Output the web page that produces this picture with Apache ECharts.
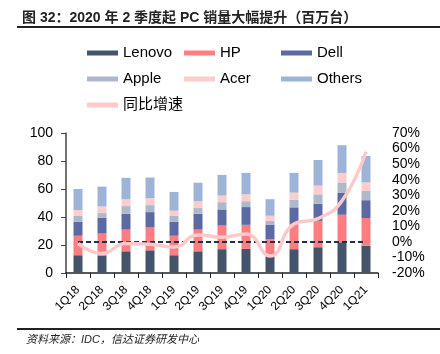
<!DOCTYPE html>
<html>
<head>
<meta charset="utf-8">
<script src="https://cdn.jsdelivr.net/npm/echarts@6/dist/echarts.min.js"></script>
<style>
  html, body { margin: 0; padding: 0; background: #fff; }
  #main { width: 440px; height: 354px; }
</style>
</head>
<body>
<div id="main"></div>
<script>
// PC shipments by vendor (million units) and YoY growth
var categories = ['1Q18', '2Q18', '3Q18', '4Q18', '1Q19', '2Q19', '3Q19', '4Q19', '1Q20', '2Q20', '3Q20', '4Q20', '1Q21'];
var lenovo = [12.7, 12.5, 15.5, 16.2, 12.7, 15.5, 17.0, 17.2, 11.8, 17.0, 18.4, 21.9, 19.5];
var hp = [13.9, 15.7, 15.5, 16.3, 13.9, 15.5, 16.9, 17.2, 12.2, 18.1, 18.8, 19.7, 19.8];
var dell = [10.1, 11.3, 11.3, 11.0, 10.1, 11.3, 11.5, 12.7, 10.6, 11.8, 12.2, 15.6, 12.7];
var apple = [4.0, 3.3, 5.5, 5.0, 4.0, 4.1, 5.2, 4.2, 2.6, 5.3, 6.8, 7.5, 6.6];
var acer = [4.3, 4.7, 4.9, 4.9, 3.8, 4.9, 4.7, 4.9, 3.7, 5.2, 6.2, 6.6, 6.1];
var others = [15.0, 14.2, 15.3, 14.8, 13.4, 13.2, 14.8, 15.3, 11.8, 14.1, 18.3, 20.0, 18.9];
var growth = [-1, -7.4, -1, -1.5, -3.3, 4.5, 3, 5, -9, 11.5, 15, 26.5, 58];
var zeroLine = [0, 0, 0, 0, 0, 0, 0, 0, 0, 0, 0, 0, 0];

var FONT = '"Liberation Sans", Arial, "Noto Sans CJK SC", sans-serif';
var chart = echarts.init(document.getElementById('main'));

function barSeries(name, data, color) {
  return {
    name: name,
    type: 'bar',
    stack: 'total',
    barWidth: 9,
    data: data,
    itemStyle: { color: color }
  };
}

function legendCol(left, names) {
  return {
    orient: 'vertical',
    left: left,
    top: 45,
    padding: 0,
    itemWidth: 31,
    itemHeight: 5,
    itemGap: 10,
    icon: 'rect',
    textStyle: { fontSize: 15, color: '#000', fontFamily: FONT, lineHeight: 16 },
    data: names
  };
}

var option = {
  animation: false,
  textStyle: { fontFamily: FONT },
  title: {
    text: '图 32：2020 年 2 季度起 PC 销量大幅提升（百万台）',
    left: 17,
    top: 6,
    textStyle: { fontSize: 14, fontWeight: 'bold', color: '#222', fontFamily: FONT }
  },
  graphic: [
    { type: 'rect', shape: { x: 17, y: 26, width: 423, height: 2 }, style: { fill: '#222' } },
    { type: 'rect', shape: { x: 17, y: 328, width: 423, height: 2 }, style: { fill: '#222' } },
    {
      type: 'text', left: 26, top: 334,
      style: { text: '资料来源：IDC，信达证券研发中心', font: 'italic 11px ' + FONT, fill: '#222' }
    }
  ],
  legend: [
    legendCol(87, ['Lenovo', 'Apple', { name: '同比增速', icon: 'roundRect', itemStyle: { color: '#ffc9ca' } }]),
    legendCol(184, ['HP', 'Acer']),
    legendCol(281, ['Dell', 'Others'])
  ],
  grid: { left: 66, right: 62, top: 133, bottom: 81 },
  xAxis: {
    type: 'category',
    data: categories,
    axisLine: { lineStyle: { color: '#222', width: 1.5 } },
    axisTick: { show: true, length: 5, lineStyle: { color: '#222' } },
    axisLabel: { rotate: 45, fontSize: 12, color: '#000', margin: 15, interval: 0 }
  },
  yAxis: [
    {
      type: 'value', min: 0, max: 100, interval: 20,
      splitLine: { show: false },
      axisLine: { show: true, lineStyle: { color: '#444', width: 1.5 } },
      axisTick: { show: true, length: 5, lineStyle: { color: '#444' } },
      axisLabel: { fontSize: 14, color: '#000', margin: 13 }
    },
    {
      type: 'value', min: -20, max: 70, interval: 10,
      splitLine: { show: false },
      axisLine: { show: false },
      axisTick: { show: false },
      axisLabel: { fontSize: 14, color: '#000', margin: 14, formatter: '{value}%' }
    }
  ],
  series: [
    barSeries('Lenovo', lenovo, '#44546a'),
    barSeries('HP', hp, '#ff7c80'),
    barSeries('Dell', dell, '#5b6aa2'),
    barSeries('Apple', apple, '#adb9ca'),
    barSeries('Acer', acer, '#ffcccc'),
    barSeries('Others', others, '#9db4d9'),
    {
      name: 'zero',
      type: 'line',
      yAxisIndex: 1,
      data: zeroLine,
      symbol: 'none',
      z: 4,
      lineStyle: { color: '#1f2f55', width: 2, type: [5, 3] }
    },
    {
      name: '同比增速',
      type: 'line',
      yAxisIndex: 1,
      smooth: true,
      symbol: 'none',
      data: growth,
      z: 5,
      itemStyle: { color: '#ffc9ca' },
      lineStyle: { color: '#ffc9ca', width: 3.5 }
    }
  ]
};

chart.setOption(option);
</script>
</body>
</html>
